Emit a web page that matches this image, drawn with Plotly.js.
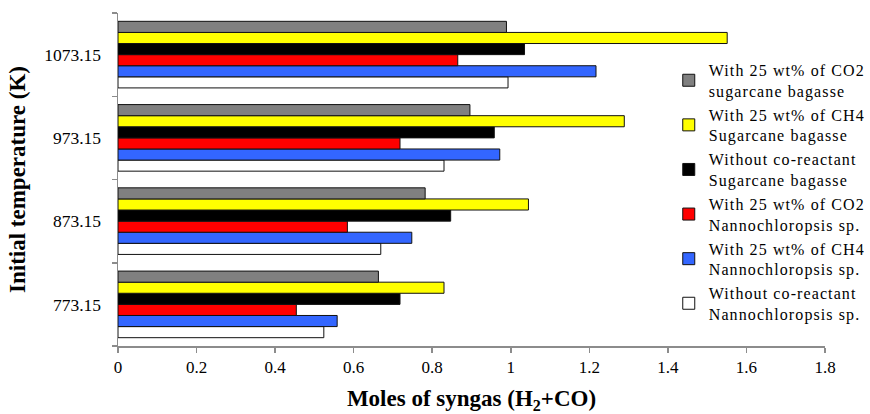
<!DOCTYPE html>
<html>
<head>
<meta charset="utf-8">
<script src="https://cdn.plot.ly/plotly-3.0.1.min.js"></script>
<style>
  html, body { margin: 0; padding: 0; background: #ffffff; }
  #chart { width: 870px; height: 414px; }
  #chart .legendtext { letter-spacing: 1.1px; }
  #chart .legend .scrollbox { clip-path: none !important; }
</style>
</head>
<body>
<div id="chart"></div>
<script>
// Categories (initial temperature, K)
const temperatures = ["773.15", "873.15", "973.15", "1073.15"];

// Series values (moles of syngas H2+CO), ordered as temperatures
const nannoNoCoreactant = [0.524, 0.669, 0.830, 0.993];
const nannoCH4 = [0.558, 0.748, 0.972, 1.217];
const nannoCO2 = [0.454, 0.584, 0.718, 0.865];
const bagasseNoCoreactant = [0.718, 0.847, 0.958, 1.035];
const bagasseCH4 = [0.830, 1.045, 1.289, 1.551];
const bagasseCO2 = [0.663, 0.782, 0.896, 0.989];

// Series names
const seriesNames = [
  "Without co-reactant<br>Nannochloropsis sp.",
  "With 25 wt% of CH4<br>Nannochloropsis sp.",
  "With 25 wt% of CO2<br>Nannochloropsis sp.",
  "Without co-reactant<br>Sugarcane bagasse",
  "With 25 wt% of CH4<br>Sugarcane bagasse",
  "With 25 wt% of CO2<br>sugarcane bagasse"
];
const seriesValues = [nannoNoCoreactant, nannoCH4, nannoCO2, bagasseNoCoreactant, bagasseCH4, bagasseCO2];
const seriesColors = ["#ffffff", "#3366ff", "#ff0000", "#000000", "#ffff00", "#808080"];

// x-axis tick values
const xTicks = [0, 0.2, 0.4, 0.6, 0.8, 1, 1.2, 1.4, 1.6, 1.8];
const xTickLabels = ["0", "0.2", "0.4", "0.6", "0.8", "1", "1.2", "1.4", "1.6", "1.8"];

const traces = seriesValues.map((vals, i) => ({
  type: "bar",
  orientation: "h",
  name: seriesNames[i],
  x: vals,
  y: temperatures,
  marker: { color: seriesColors[i], line: { color: "#111111", width: 1 } },
  hoverinfo: "x+y+name"
}));

const FONT = "Liberation Serif, Times New Roman, serif";

const layout = {
  width: 870,
  height: 414,
  paper_bgcolor: "#ffffff",
  plot_bgcolor: "#ffffff",
  font: { family: FONT, size: 17, color: "#000000" },
  margin: { l: 118, r: 45, t: 13, b: 68 },
  barmode: "group",
  bargap: 0.2,
  bargroupgap: 0,
  showlegend: true,
  legend: {
    x: 0.779, xanchor: "left",
    y: 0.88, yanchor: "top",
    traceorder: "reversed",
    font: { family: FONT, size: 16, color: "#000000" },
    bgcolor: "rgba(0,0,0,0)",
    itemwidth: 30,
    tracegroupgap: 0
  },
  xaxis: {
    range: [0, 1.8],
    tickmode: "array",
    tickvals: xTicks,
    ticktext: xTickLabels,
    showgrid: false,
    zeroline: false,
    showline: true,
    linecolor: "#8c8c8c",
    linewidth: 1.5,
    ticks: "outside",
    ticklen: 5,
    tickcolor: "#8c8c8c",
    tickwidth: 1.5,
    tickfont: { family: FONT, size: 17, color: "#000000" },
    title: {
      text: "<b>Moles of syngas (H<sub>2</sub>+CO)</b>",
      font: { family: FONT, size: 23, color: "#000000" },
      standoff: 16
    },
    fixedrange: true
  },
  yaxis: {
    type: "category",
    categoryorder: "array",
    categoryarray: temperatures,
    range: [-0.5, 3.5],
    tickson: "boundaries",
    showgrid: false,
    zeroline: false,
    showline: true,
    linecolor: "#8c8c8c",
    linewidth: 1.5,
    ticks: "outside",
    ticklen: 5,
    tickcolor: "#8c8c8c",
    tickwidth: 1.5,
    ticklabelstandoff: 12,
    tickfont: { family: FONT, size: 17.5, color: "#000000" },
    title: {
      text: "<b>Initial temperature (K)</b>",
      font: { family: FONT, size: 23, color: "#000000" },
      standoff: 12
    },
    fixedrange: true
  }
};

Plotly.newPlot("chart", traces, layout, { displayModeBar: false, staticPlot: true });
</script>
</body>
</html>
